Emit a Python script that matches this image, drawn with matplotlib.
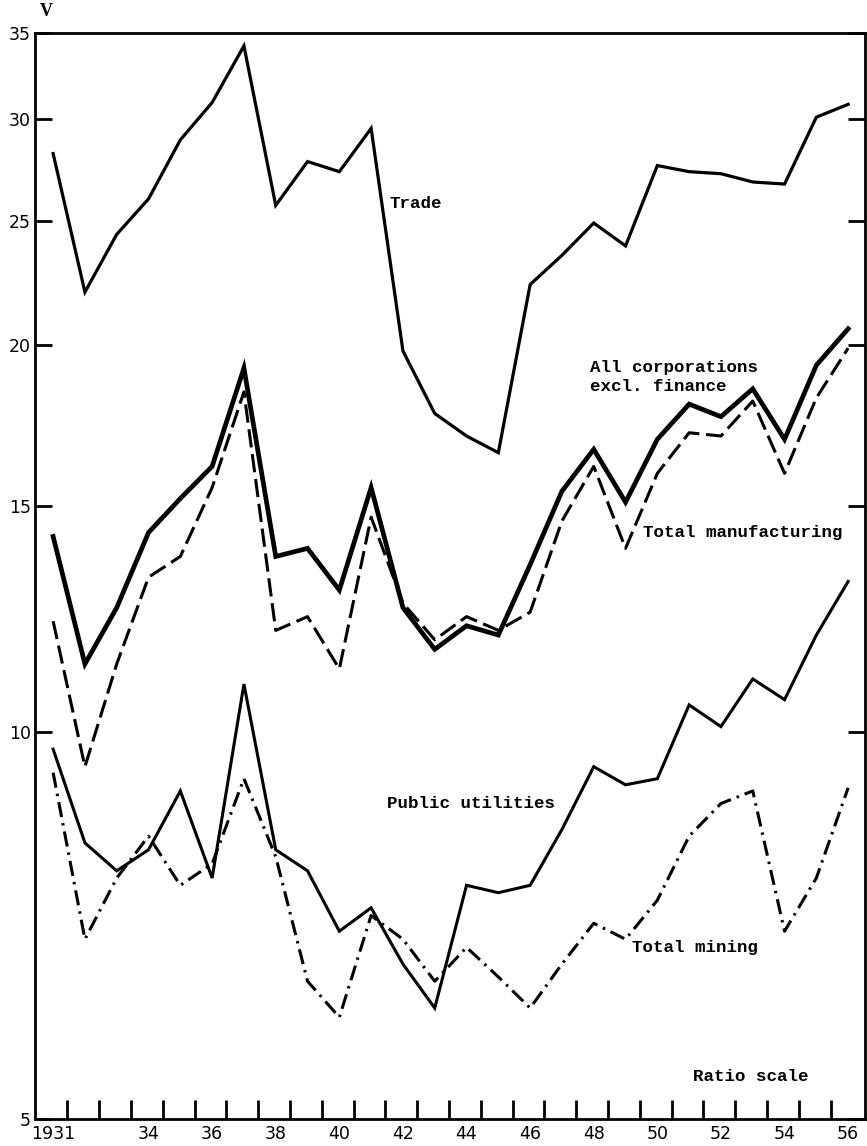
import numpy as np
import matplotlib
matplotlib.use("Agg")
import matplotlib.pyplot as plt
from matplotlib.ticker import FixedLocator, NullFormatter, NullLocator

# Años 1931-1956
years = list(range(1931, 1957))

trade = [28.2, 22.0, 24.4, 26.0, 28.9, 30.9, 34.2, 25.7, 27.8, 27.3, 29.5, 19.8, 17.7,
         17.0, 16.5, 22.3, 23.5, 24.9, 23.9, 27.6, 27.3, 27.2, 26.8, 26.7, 30.1, 30.8]
all_corps = [14.2, 11.3, 12.5, 14.3, 15.2, 16.1, 19.2, 13.7, 13.9, 12.9, 15.5, 12.5, 11.6,
             12.1, 11.9, 13.5, 15.4, 16.6, 15.1, 16.9, 18.0, 17.6, 18.5, 16.9, 19.3, 20.6]
manufacturing = [12.2, 9.4, 11.3, 13.2, 13.7, 15.5, 18.4, 12.0, 12.3, 11.2, 14.7, 12.6, 11.8,
                 12.3, 12.0, 12.4, 14.6, 16.1, 13.9, 15.9, 17.1, 17.0, 18.1, 15.9, 18.2, 19.9]
utilities = [9.7, 8.2, 7.8, 8.1, 9.0, 7.7, 10.9, 8.1, 7.8, 7.0, 7.3, 6.6, 6.1,
             7.6, 7.5, 7.6, 8.4, 9.4, 9.1, 9.2, 10.5, 10.1, 11.0, 10.6, 11.9, 13.1]
mining = [9.3, 6.9, 7.7, 8.3, 7.6, 7.9, 9.2, 8.0, 6.4, 6.0, 7.2, 6.9, 6.4,
          6.8, 6.45, 6.1, 6.6, 7.1, 6.9, 7.4, 8.3, 8.8, 9.0, 7.0, 7.7, 9.05]

y_ticks = [5, 10, 15, 20, 25, 30, 35]
x_label_years = [1931, 1934, 1936, 1938, 1940, 1942, 1944, 1946, 1948, 1950, 1952, 1954, 1956]
x_labels = ["1931", "34", "36", "38", "40", "42", "44", "46", "48", "50", "52", "54", "56"]

txt_font = "Liberation Mono"

fig = plt.figure(figsize=(8.67, 11.46), dpi=100)
ax = fig.add_axes([35 / 867, 27 / 1146, 830 / 867, 1086 / 1146])

ax.plot(years, trade, color="black", lw=2.3, solid_joinstyle="miter")
ax.plot(years, all_corps, color="black", lw=3.4, solid_joinstyle="miter")
ax.plot(years, manufacturing, color="black", lw=2.2, dashes=(6, 2.2))
ax.plot(years, utilities, color="black", lw=2.2, solid_joinstyle="miter")
ax.plot(years, mining, color="black", lw=2.2, dashes=(5, 2.0, 0.8, 2.0))

ax.set_yscale("log")
ax.set_ylim(5, 35)
ax.set_xlim(1930.43, 1956.53)

ax.yaxis.set_major_locator(FixedLocator(y_ticks))
ax.yaxis.set_minor_locator(NullLocator())
ax.set_yticklabels([str(v) for v in y_ticks])
ax.yaxis.set_minor_formatter(NullFormatter())
ax.tick_params(axis="y", which="major", direction="in", length=12, width=2,
               left=True, right=True, labelsize=12.5, pad=3)

ax.xaxis.set_major_locator(FixedLocator(x_label_years))
ax.set_xticklabels(x_labels)
ax.xaxis.set_minor_locator(FixedLocator([y + 0.45 for y in years[:-1]]))
ax.tick_params(axis="x", which="major", length=0, labelsize=12.5, pad=4)
ax.tick_params(axis="x", which="minor", direction="in", length=14, width=2)

for s in ax.spines.values():
    s.set_linewidth(2)

# Etiquetas de las series
kw = dict(fontfamily=txt_font, fontsize=12.6, fontweight="bold", va="center", ha="left")
ax.text(1941.59, 25.8, "Trade", **kw)
ax.text(1947.88, 18.9, "All corporations\nexcl. finance", linespacing=1.3, **kw)
ax.text(1949.55, 14.3, "Total manufacturing", **kw)
ax.text(1941.50, 8.8, "Public utilities", **kw)
ax.text(1949.20, 6.8, "Total mining", **kw)
ax.text(1951.12, 5.4, "Ratio scale", **kw)

fig.text(40 / 867, 1 - 12 / 1146, "V", fontfamily="Liberation Serif", fontsize=13,
         fontweight="bold", ha="left", va="center")

fig.savefig("out.png", dpi=100)
